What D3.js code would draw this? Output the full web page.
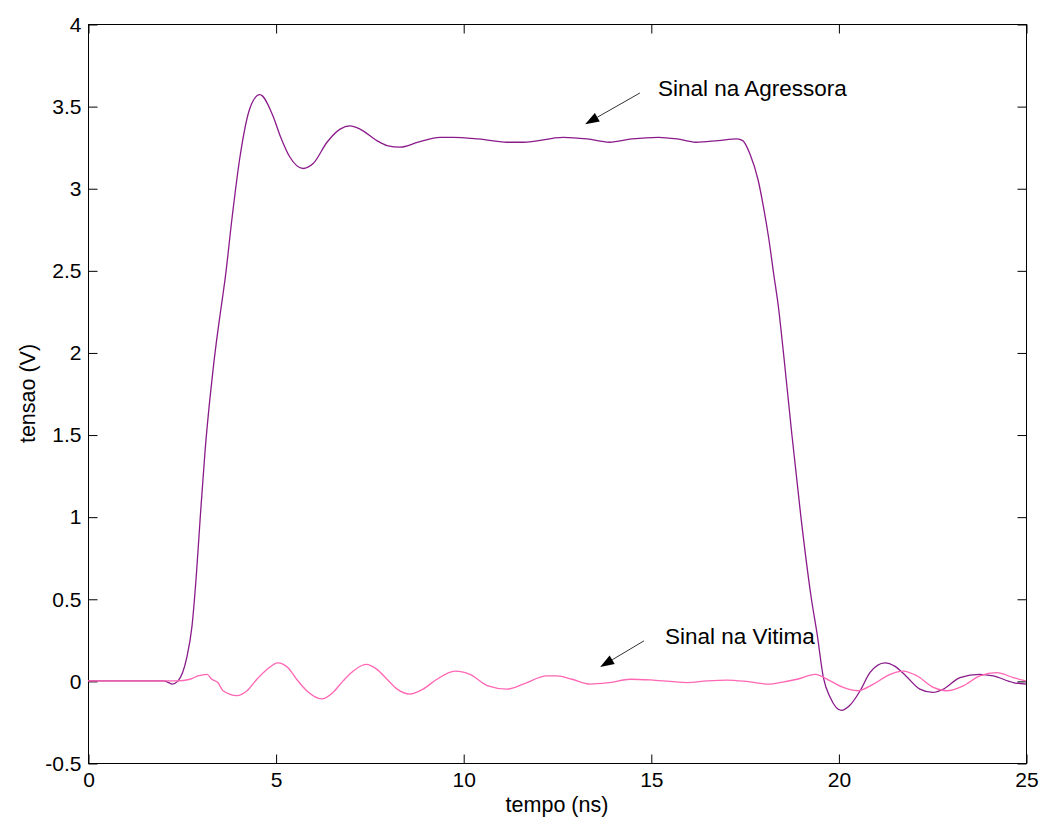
<!DOCTYPE html>
<html>
<head>
<meta charset="utf-8">
<script src="https://cdn.jsdelivr.net/npm/d3@7"></script>
<style>
  body { margin: 0; background: #fff; }
  svg { display: block; font-family: "Liberation Sans", Arial, sans-serif; }
</style>
</head>
<body>
<div id="chart"></div>
<script>
// time (ns) and voltage (V)
const agressor_t = [0, 2.0, 2.15, 2.24, 2.4, 2.63, 2.77, 2.88, 2.99, 3.12, 3.25, 3.35, 3.46, 3.57, 3.65, 3.84, 4.05, 4.32, 4.58, 4.93, 5.12, 5.38, 5.73, 6.0, 6.37, 6.72, 6.98, 7.25, 7.7, 7.97, 8.32, 8.8, 9.38, 9.73, 10.4, 11.17, 11.6, 12.67, 13.3, 13.9, 14.5, 15.2, 15.7, 16.2, 16.8, 17.3, 17.45, 17.64, 17.86, 18.0, 18.14, 18.28, 18.4, 18.53, 18.76, 19.0, 19.28, 19.43, 19.6, 19.78, 20.08, 20.3, 20.58, 20.84, 21.24, 21.5, 21.8, 22.17, 22.52, 22.8, 23.24, 23.77, 24.13, 24.66, 25]
const agressor_v = [0, 0, -0.01, -0.02, 0, 0.14, 0.33, 0.62, 0.99, 1.40, 1.72, 1.93, 2.13, 2.31, 2.44, 2.82, 3.19, 3.49, 3.57, 3.44, 3.32, 3.19, 3.12, 3.15, 3.28, 3.36, 3.38, 3.36, 3.29, 3.26, 3.25, 3.28, 3.31, 3.31, 3.30, 3.28, 3.28, 3.31, 3.30, 3.28, 3.30, 3.31, 3.30, 3.28, 3.29, 3.30, 3.29, 3.21, 3.05, 2.89, 2.70, 2.47, 2.28, 2.01, 1.5, 1.0, 0.5, 0.29, 0.02, -0.10, -0.18, -0.15, -0.06, 0.05, 0.11, 0.09, 0.03, -0.05, -0.07, -0.05, 0.02, 0.04, 0.03, -0.01, -0.02]

const vitima_t = [0, 2.37, 2.72, 2.93, 3.17, 3.3, 3.46, 3.6, 3.97, 4.24, 4.5, 4.77, 5.06, 5.33, 5.56, 5.83, 6.23, 6.53, 6.8, 7.07, 7.41, 7.7, 7.97, 8.24, 8.58, 8.93, 9.3, 9.78, 10.18, 10.66, 11.17, 11.6, 12.23, 12.5, 12.9, 13.38, 13.9, 14.45, 15.06, 15.96, 16.5, 17.03, 17.6, 18.18, 18.44, 18.9, 19.38, 19.78, 20.13, 20.52, 20.93, 21.38, 21.73, 22.1, 22.53, 22.89, 23.33, 23.77, 24.22, 24.66, 25]
const vitima_v = [0, 0, 0.01, 0.03, 0.04, 0.01, -0.01, -0.06, -0.09, -0.06, 0.01, 0.07, 0.11, 0.08, 0.01, -0.06, -0.11, -0.07, 0, 0.06, 0.10, 0.07, 0.01, -0.05, -0.08, -0.05, 0.01, 0.06, 0.04, -0.03, -0.05, -0.02, 0.03, 0.03, 0.01, -0.02, -0.01, 0.01, 0.005, -0.01, 0, 0.005, -0.005, -0.02, -0.01, 0.01, 0.04, 0, -0.04, -0.06, -0.02, 0.04, 0.06, 0.03, -0.04, -0.06, -0.03, 0.03, 0.05, 0.02, 0]

const x_ticks = [0, 5, 10, 15, 20, 25]
const y_ticks = [-0.5, 0, 0.5, 1, 1.5, 2, 2.5, 3, 3.5, 4]

// annotations: [text x, text y, arrow tail x, tail y, arrow tip x, tip y]
const labels = ["Sinal na Agressora", "Sinal na Vitima"]
const label_pos = [[15.19, 3.61, 14.71, 3.58, 13.25, 3.39], [15.38, 0.27, 14.82, 0.244, 13.65, 0.085]]

const width = 1043, height = 825
const m_left = 88, m_right = 1026, m_top = 24, m_bottom = 763

const svg = d3.select("#chart").append("svg")
    .attr("width", width)
    .attr("height", height)

const x = d3.scaleLinear().domain([0, 25]).range([m_left, m_right])
const y = d3.scaleLinear().domain([-0.5, 4]).range([m_bottom, m_top])

svg.append("rect")
    .attr("x", m_left + 0.5).attr("y", m_top + 0.5)
    .attr("width", m_right - m_left).attr("height", m_bottom - m_top)
    .attr("fill", "#fff").attr("stroke", "#000").attr("stroke-width", 1)

const fmt = d => String(d)

svg.append("g")
    .attr("transform", "translate(" + (m_left + 0.5) + ",0.5)")
    .call(d3.axisLeft(y).tickValues(y_ticks).tickFormat(fmt).tickSize(-9).tickSizeOuter(0).tickPadding(7))
svg.append("g")
    .attr("transform", "translate(" + (m_right + 0.5) + ",0.5)")
    .call(d3.axisRight(y).tickValues(y_ticks).tickFormat("").tickSize(-9).tickSizeOuter(0))
svg.append("g")
    .attr("transform", "translate(0.5," + (m_bottom + 0.5) + ")")
    .call(d3.axisBottom(x).tickValues(x_ticks).tickFormat(fmt).tickSize(-9).tickSizeOuter(0).tickPadding(9))
svg.append("g")
    .attr("transform", "translate(0.5," + (m_top + 0.5) + ")")
    .call(d3.axisTop(x).tickValues(x_ticks).tickFormat("").tickSize(-9).tickSizeOuter(0))

svg.selectAll(".domain").remove()
svg.selectAll(".tick line").attr("stroke", "#000")
svg.selectAll(".tick text")
    .attr("fill", "#000")
    .style("font-size", "21px")
    .style("font-family", "Liberation Sans, Arial, sans-serif")

const line = d3.line()
    .x(d => x(d[0]))
    .y(d => y(d[1]))
    .curve(d3.curveMonotoneX)

svg.append("path")
    .datum(d3.zip(agressor_t, agressor_v))
    .attr("fill", "none")
    .attr("stroke", "#8a1a8a")
    .attr("stroke-width", 1.3)
    .attr("d", line)

svg.append("path")
    .datum(d3.zip(vitima_t, vitima_v))
    .attr("fill", "none")
    .attr("stroke", "#ff66b3")
    .attr("stroke-width", 1.3)
    .attr("d", line)

// arrows and their text
label_pos.forEach((p, i) => {
    const x0 = x(p[2]), y0 = y(p[3]), x1 = x(p[4]), y1 = y(p[5])
    const ang = Math.atan2(y1 - y0, x1 - x0)
    const len = 14, half = 5
    const bx = x1 - len * Math.cos(ang), by = y1 - len * Math.sin(ang)
    svg.append("line")
        .attr("x1", x0).attr("y1", y0).attr("x2", bx).attr("y2", by)
        .attr("stroke", "#333").attr("stroke-width", 1)
    svg.append("path")
        .attr("d", "M" + x1 + "," + y1 +
            "L" + (bx + half * Math.sin(ang)) + "," + (by - half * Math.cos(ang)) +
            "L" + (bx - half * Math.sin(ang)) + "," + (by + half * Math.cos(ang)) + "Z")
        .attr("fill", "#000")
    svg.append("text")
        .attr("x", x(p[0])).attr("y", y(p[1]))
        .attr("dy", "0.35em")
        .style("font-size", "22.5px")
        .text(labels[i])
})

svg.append("text")
    .attr("text-anchor", "middle")
    .attr("x", (m_left + m_right) / 2)
    .attr("y", 812)
    .style("font-size", "21.5px")
    .text("tempo (ns)")

svg.append("text")
    .attr("text-anchor", "middle")
    .attr("transform", "translate(35," + ((m_top + m_bottom) / 2) + ")rotate(-90)")
    .style("font-size", "21.5px")
    .text("tensao (V)")
</script>
</body>
</html>
